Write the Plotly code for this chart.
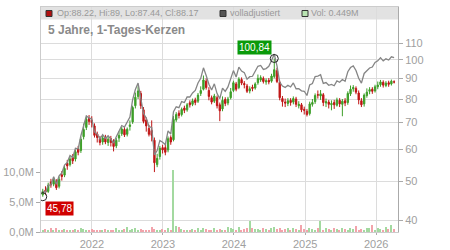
import math
import pandas as pd
import plotly.graph_objects as go

# ---------------- data (2-week candles) ----------------
start_date = "2021-04-23"
n_candles = 130

close = [
    47.2, 47.0, 48.9, 49.0, 50.3, 48.2, 50.6, 51.4, 53.8, 54.6,
    56.8, 56.2, 59.2, 59.0, 63.6, 67.2, 71.2, 70.4, 70.0, 65.0,
    64.2, 62.4, 64.0, 62.6, 63.6, 62.4, 61.0, 63.2, 65.0, 67.4,
    65.2, 67.3, 69.0, 76.2, 80.8, 83.8, 77.0, 70.4, 68.6, 65.4,
    65.0, 55.6, 57.0, 60.4, 59.8, 59.0, 63.8, 62.6, 71.2, 73.2,
    72.8, 75.4, 75.0, 77.4, 77.4, 79.2, 78.4, 81.8, 84.0, 89.2,
    85.4, 81.2, 78.6, 81.4, 77.0, 74.8, 79.4, 78.0, 80.0, 83.4,
    87.8, 84.6, 89.6, 87.6, 86.8, 83.6, 84.8, 85.0, 87.2, 90.0,
    90.4, 88.4, 88.8, 88.2, 91.2, 94.6, 88.4, 80.6, 78.8, 78.2,
    79.2, 78.4, 80.2, 77.6, 77.6, 75.2, 75.0, 73.2, 77.8, 78.4,
    81.6, 81.8, 82.4, 78.4, 78.8, 77.6, 78.0, 77.4, 79.6, 77.8,
    79.0, 78.2, 82.6, 84.6, 85.4, 83.2, 79.6, 77.4, 81.8, 83.2,
    84.4, 83.6, 85.8, 86.6, 88.2, 86.6, 87.6, 87.0, 88.6, 88.17,
]
open_ = [
    46.3, 47.5, 47.2, 49.8, 49.2, 49.9, 48.6, 51.9, 51.8, 55.4,
    55.0, 57.3, 56.8, 60.2, 59.6, 64.5, 68.0, 71.6, 70.8, 68.6,
    65.5, 63.8, 62.6, 64.2, 62.4, 63.8, 62.8, 61.2, 64.0, 65.6,
    67.2, 65.4, 68.4, 70.2, 77.0, 81.2, 82.6, 75.2, 71.0, 67.6,
    66.8, 63.2, 55.0, 57.6, 60.6, 60.6, 59.8, 64.2, 63.4, 71.0,
    73.8, 73.2, 76.0, 75.2, 78.3, 77.6, 79.6, 79.0, 82.6, 84.6,
    88.6, 84.0, 80.6, 79.0, 80.6, 77.4, 75.6, 79.8, 78.2, 80.6,
    84.0, 87.2, 85.4, 89.4, 87.4, 86.2, 83.8, 85.6, 85.2, 87.8,
    89.2, 90.0, 88.2, 89.0, 88.6, 91.0, 94.0, 88.0, 80.2, 78.6,
    78.0, 79.4, 78.6, 80.0, 77.0, 77.4, 75.4, 74.6, 73.6, 77.6,
    78.8, 82.0, 81.4, 82.0, 78.2, 78.6, 77.4, 78.4, 77.2, 79.4,
    77.6, 79.2, 78.4, 82.4, 84.8, 85.0, 82.8, 79.2, 77.8, 81.6,
    83.6, 84.6, 83.8, 85.8, 86.8, 88.0, 86.4, 87.8, 87.2, 88.22,
]
high = [
    47.9, 48.6, 49.6, 50.7, 51.2, 50.6, 51.4, 53.0, 54.6, 56.5,
    57.6, 58.4, 59.9, 61.2, 64.5, 69.5, 72.2, 73.0, 72.5, 69.6,
    66.4, 64.8, 65.0, 65.2, 64.6, 64.8, 63.6, 64.0, 66.6, 68.2,
    68.2, 68.0, 70.8, 77.0, 83.0, 86.0, 83.8, 76.4, 72.0, 69.0,
    70.8, 64.2, 58.5, 61.2, 61.6, 61.8, 64.6, 65.0, 72.6, 74.2,
    75.0, 76.2, 77.0, 78.2, 79.4, 80.2, 80.6, 82.8, 86.0, 91.5,
    90.0, 85.6, 81.6, 82.4, 81.6, 78.4, 81.2, 80.8, 81.0, 85.2,
    88.8, 88.2, 90.6, 90.5, 88.6, 87.2, 86.0, 86.8, 88.0, 92.0,
    91.6, 91.0, 90.0, 90.2, 92.4, 100.84, 95.6, 88.8, 81.4, 80.2,
    80.4, 80.4, 81.2, 81.0, 79.0, 78.2, 76.6, 75.6, 78.8, 80.0,
    82.6, 84.0, 84.2, 82.8, 80.2, 79.6, 79.4, 79.6, 80.6, 80.4,
    80.0, 80.4, 83.6, 86.4, 86.6, 86.0, 84.0, 80.4, 82.6, 85.0,
    85.6, 85.6, 86.8, 88.4, 89.2, 89.0, 88.6, 88.8, 89.4, 89.0,
]
low = [
    45.78, 46.3, 46.8, 48.2, 48.6, 47.6, 48.0, 50.2, 51.2, 53.4,
    54.4, 55.2, 56.0, 58.0, 58.8, 63.5, 67.0, 69.0, 68.0, 64.2,
    62.4, 61.4, 61.6, 61.8, 61.2, 61.0, 59.3, 60.4, 62.6, 64.8,
    64.4, 64.6, 66.8, 69.4, 75.8, 80.0, 75.6, 69.6, 66.4, 64.6,
    62.8, 52.7, 54.2, 56.6, 58.6, 58.0, 59.0, 61.6, 62.8, 70.2,
    71.6, 72.4, 73.8, 74.4, 76.2, 76.8, 77.2, 78.2, 81.4, 84.0,
    84.4, 79.4, 77.6, 78.2, 75.8, 70.5, 74.6, 76.8, 77.2, 79.8,
    83.2, 83.6, 84.6, 86.6, 85.0, 82.8, 82.6, 83.6, 84.4, 86.8,
    88.2, 87.4, 86.8, 87.0, 87.8, 90.0, 87.6, 79.4, 76.6, 76.4,
    76.8, 77.0, 77.6, 76.4, 75.8, 74.2, 73.2, 72.4, 72.8, 76.6,
    77.8, 80.2, 79.6, 76.8, 76.4, 75.8, 75.0, 75.6, 76.6, 76.4,
    72.5, 76.8, 77.4, 81.4, 83.4, 82.2, 77.6, 76.4, 76.6, 80.6,
    82.2, 82.4, 83.0, 84.6, 85.8, 85.4, 85.6, 85.8, 86.4, 87.44,
]
volume_m = [
    0.4, 0.5, 0.3, 0.6, 0.4, 0.7, 0.3, 0.4, 0.5, 0.3,
    0.4, 0.3, 0.5, 0.4, 0.6, 0.5, 0.4, 0.3, 0.5, 0.4,
    0.3, 0.4, 0.3, 0.5, 0.4, 0.3, 0.4, 0.6, 0.4, 0.3,
    0.5, 0.9, 0.4, 0.5, 0.6, 0.4, 0.5, 0.4, 0.3, 0.4,
    0.8, 0.5, 0.4, 0.3, 0.5, 0.4, 0.6, 0.4, 10.3, 1.0,
    0.9, 0.5, 0.4, 0.3, 0.4, 0.5, 0.3, 0.6, 0.4, 0.7,
    0.5, 0.4, 0.3, 0.6, 0.4, 0.5, 0.4, 0.3, 0.9, 0.6,
    0.5, 0.4, 0.8, 0.4, 0.5, 0.6, 1.8, 0.7, 0.5, 0.5,
    0.4, 0.6, 0.5, 0.4, 0.7, 0.8, 0.5, 0.6, 0.4, 0.5,
    0.7, 0.4, 0.6, 0.5, 0.4, 1.2, 0.5, 0.4, 0.6, 0.5,
    0.4, 0.6, 1.9, 0.4, 0.6, 0.5, 0.4, 0.7, 0.5, 0.4,
    0.6, 0.5, 0.4, 0.6, 0.5, 1.0, 0.4, 0.5, 0.4, 0.6,
    0.7, 1.2, 0.4, 0.6, 0.5, 0.4, 0.8, 0.5, 1.1, 0.449,
]
# dividend adjustment events used for the "volladjustiert" line
dividend_dates = ["2021-06-15", "2022-06-15", "2023-06-15", "2024-06-15",
                  "2024-12-10", "2025-06-15", "2025-12-10"]
dividend_factors = [1.020, 1.025, 1.025, 1.020, 1.020, 1.015, 1.015]

year_ticks = ["2022-01-01", "2023-01-01", "2024-01-01", "2025-01-01", "2026-01-01"]
year_labels = ["2022", "2023", "2024", "2025", "2026"]
price_ticks = [40, 50, 60, 70, 80, 90, 100, 110]
price_labels = ["40", "50", "60", "70", "80", "90", "100", "110"]
vol_ticks = [0, 5, 10]
vol_labels = ["0,0M", "5,0M", "10,0M"]

title_text = "5 Jahre, 1-Tages-Kerzen"
legend_ohlc = "Op:88.22, Hi:89, Lo:87.44, Cl:88.17"
legend_adj = "volladjustiert"
legend_vol = "Vol: 0.449M"
min_label, max_label = "45,78", "100,84"

# ---------------- derived ----------------
dates = pd.date_range(start_date, periods=n_candles, freq="14D")
div_dt = pd.to_datetime(dividend_dates)
adj_close = []
for d, c in zip(dates, close):
    f = 1.0
    for dd, ff in zip(div_dt, dividend_factors):
        if dd <= d:
            f *= ff
    adj_close.append(c * f)

GREEN = "#3d9e28"
RED = "#c01515"
vol_colors = ["#a3d9a0" if c >= o else "#f2a3ab" for o, c in zip(open_, close)]

i_min = low.index(min(low))
i_max = high.index(max(high))

FONT = "Liberation Sans, Arial, sans-serif"
fig = go.Figure()

fig.add_trace(go.Bar(
    x=dates, y=volume_m, yaxis="y2", marker_color=vol_colors,
    marker_line_width=0, width=7 * 86400000, hoverinfo="skip",
))
fig.add_trace(go.Scatter(
    x=dates, y=adj_close, mode="lines",
    line=dict(color="#858585", width=1.3), hoverinfo="skip",
))
fig.add_trace(go.Candlestick(
    x=dates, open=open_, high=high, low=low, close=close,
    increasing=dict(line=dict(color=GREEN, width=1), fillcolor=GREEN),
    decreasing=dict(line=dict(color=RED, width=1), fillcolor=RED),
    whiskerwidth=0,
))
fig.add_trace(go.Scatter(
    x=[dates[i_min], dates[i_max]], y=[low[i_min], high[i_max]],
    mode="markers",
    marker=dict(symbol="circle-open", size=8, color="#222", line=dict(width=1)),
    hoverinfo="skip",
))

fig.add_annotation(x=dates[i_max], y=math.log10(high[i_max]), text=max_label,
                   showarrow=False, xanchor="right", yanchor="bottom",
                   xshift=-2, yshift=3, bgcolor="#0a9a0a", borderpad=1,
                   font=dict(family=FONT, size=10, color="white"))
fig.add_annotation(x=dates[i_min], y=math.log10(low[i_min]), text=min_label,
                   showarrow=False, xanchor="left", yanchor="top",
                   xshift=2, yshift=-4, bgcolor="#d00000", borderpad=1,
                   font=dict(family=FONT, size=10, color="white"))

# header band
W = 357.0
H = 225.0
def px_x(p):
    return (p - 41) / W
def px_y(p):
    return 1 - (p - 7) / H

fig.add_shape(type="rect", xref="paper", yref="paper", x0=0, x1=1,
              y0=px_y(19.5), y1=1, fillcolor="#e2e2e2", line_width=0, layer="below")
for (x0, col) in [(46, "#b01010"), (220, "#555555"), (302, "#b9e3b2")]:
    fig.add_shape(type="rect", xref="paper", yref="paper",
                  x0=px_x(x0), x1=px_x(x0 + 6), y0=px_y(16.5), y1=px_y(10.5),
                  fillcolor=col, line=dict(color="#333", width=1))
for (x0, txt) in [(55, legend_ohlc), (228, legend_adj), (309, legend_vol)]:
    fig.add_annotation(xref="paper", yref="paper", x=px_x(x0), y=px_y(13.5),
                       text=txt, showarrow=False, xanchor="left", yanchor="middle",
                       font=dict(family=FONT, size=9, color="#999999"))
fig.add_annotation(xref="paper", yref="paper", x=px_x(46), y=px_y(30),
                   text="<b>" + title_text + "</b>", showarrow=False,
                   xanchor="left", yanchor="middle",
                   font=dict(family=FONT, size=12, color="#8a8a8a"))

tickfont = dict(family=FONT, size=11, color="#a0a0a0")
fig.update_layout(
    width=450, height=250,
    margin=dict(l=41, r=52, t=7, b=18),
    paper_bgcolor="white", plot_bgcolor="white",
    showlegend=False,
    bargap=0,
    xaxis=dict(
        type="date", range=["2021-04-14", "2026-04-23"],
        tickvals=year_ticks, ticktext=year_labels,
        showgrid=True, gridcolor="#dcdcdc", gridwidth=1,
        ticks="outside", ticklen=2, tickcolor="#aaaaaa",
        showline=True, linecolor="#cccccc", mirror=True,
        tickfont=tickfont, rangeslider=dict(visible=False), zeroline=False,
        automargin=False,
    ),
    yaxis=dict(
        type="log", side="right",
        range=[math.log10(37.43), math.log10(135.3)],
        tickvals=price_ticks, ticktext=price_labels,
        showgrid=True, gridcolor="#dcdcdc", gridwidth=1,
        ticks="outside", ticklen=4, tickcolor="#aaaaaa",
        showline=True, linecolor="#aaaaaa",
        tickfont=tickfont, zeroline=False, automargin=False,
    ),
    yaxis2=dict(
        overlaying="y", side="left", range=[0, 37.5],
        tickvals=vol_ticks, ticktext=vol_labels, showgrid=False,
        ticks="outside", ticklen=4, tickcolor="#aaaaaa",
        showline=True, linecolor="#cccccc",
        tickfont=tickfont, zeroline=False, automargin=False,
    ),
)

fig.write_html("out.html")
